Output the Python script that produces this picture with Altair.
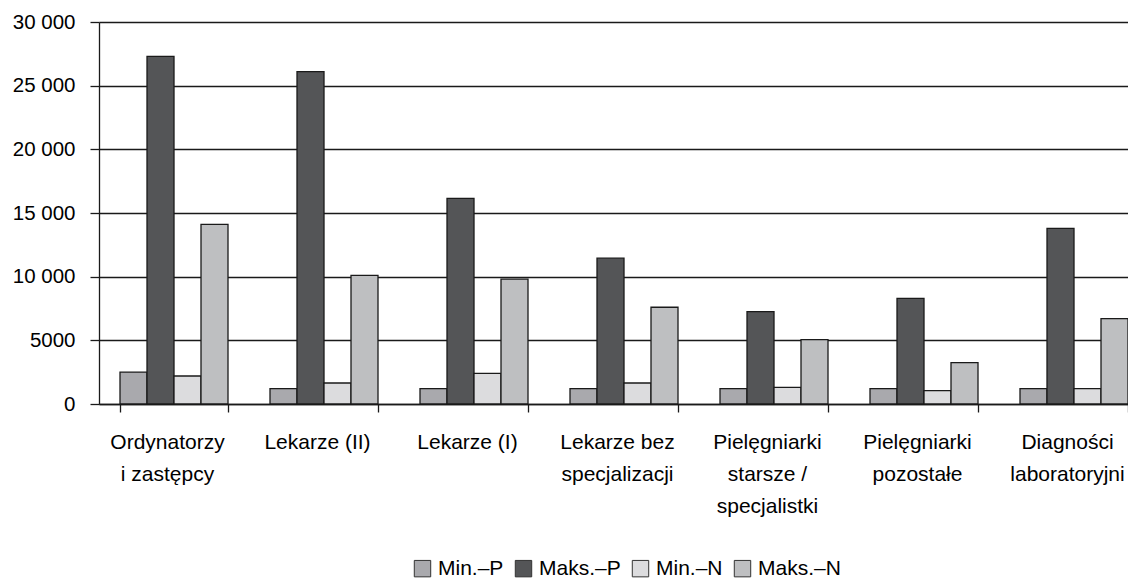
import altair as alt
import pandas as pd

categories = [
    "Ordynatorzy\ni zastępcy",
    "Lekarze (II)",
    "Lekarze (I)",
    "Lekarze bez\nspecjalizacji",
    "Pielęgniarki\nstarsze /\nspecjalistki",
    "Pielęgniarki\npozostałe",
    "Diagności\nlaboratoryjni",
]
series = ["Min.–P", "Maks.–P", "Min.–N", "Maks.–N"]
min_p = [2500, 1200, 1200, 1200, 1200, 1200, 1200]
maks_p = [27300, 26100, 16150, 11450, 7250, 8300, 13800]
min_n = [2200, 1650, 2400, 1650, 1300, 1050, 1200]
maks_n = [14100, 10100, 9800, 7600, 5050, 3250, 6700]
colors = ["#a9a9ad", "#545557", "#dcdcde", "#bebfc1"]

rows = []
for s, vals in zip(series, [min_p, maks_p, min_n, maks_n]):
    for c, v in zip(categories, vals):
        rows.append({"kat": c, "seria": s, "wartosc": v})
df = pd.DataFrame(rows)

font = "Liberation Sans"

chart = alt.Chart(df).mark_bar(
    stroke="#1a1a1a", strokeWidth=1.3
).encode(
    x=alt.X(
        "kat:N",
        sort=categories,
        scale=alt.Scale(range=[0, 1050], paddingInner=0.28, paddingOuter=0.14),
        axis=alt.Axis(
            title=None,
            labelAngle=0,
            labelExpr="split(datum.label, '\\n')",
            labelFont=font,
            labelFontSize=21,
            labelColor="#000",
            labelLineHeight=32,
            labelPadding=19,
            labelOffset=-7,
            labelBaseline="top",
            tickBand="extent",
            tickSize=8,
            tickColor="#1a1a1a",
            domainColor="#1a1a1a",
            domainWidth=1.3,
            tickWidth=1.3,
            grid=False,
        ),
    ),
    xOffset=alt.XOffset("seria:N", sort=series),
    y=alt.Y(
        "wartosc:Q",
        scale=alt.Scale(domain=[0, 30000], nice=False),
        axis=alt.Axis(
            title=None,
            values=[0, 5000, 10000, 15000, 20000, 25000, 30000],
            labelExpr="datum.value >= 10000 ? replace(format(datum.value, ','), ',', ' ') : format(datum.value, 'd')",
            labelFont=font,
            labelFontSize=20.5,
            labelColor="#000",
            labelPadding=15,
            tickSize=9,
            tickColor="#1a1a1a",
            tickWidth=1.3,
            domainColor="#1a1a1a",
            domainWidth=1.3,
            grid=True,
            gridColor="#1a1a1a",
            gridWidth=1.3,
        ),
    ),
    color=alt.Color(
        "seria:N",
        sort=series,
        scale=alt.Scale(domain=series, range=colors),
        legend=alt.Legend(
            title=None,
            orient="none",
            direction="horizontal",
            legendX=313,
            legendY=536,
            symbolType="square",
            symbolSize=270,
            symbolStrokeColor="#333",
            symbolStrokeWidth=1,
            symbolOpacity=1,
            labelFont=font,
            labelFontSize=21,
            labelColor="#000",
            labelOffset=5,
            columnPadding=9,
        ),
    ),
).properties(
    width=1029,
    height=382,
    autosize=alt.AutoSizeParams(type="none"),
    padding={"left": 91, "top": 14, "right": 0, "bottom": 175},
).configure_view(stroke=None).configure(background="white")

chart.save("out.html", embed_options={"renderer": "svg", "actions": False})
